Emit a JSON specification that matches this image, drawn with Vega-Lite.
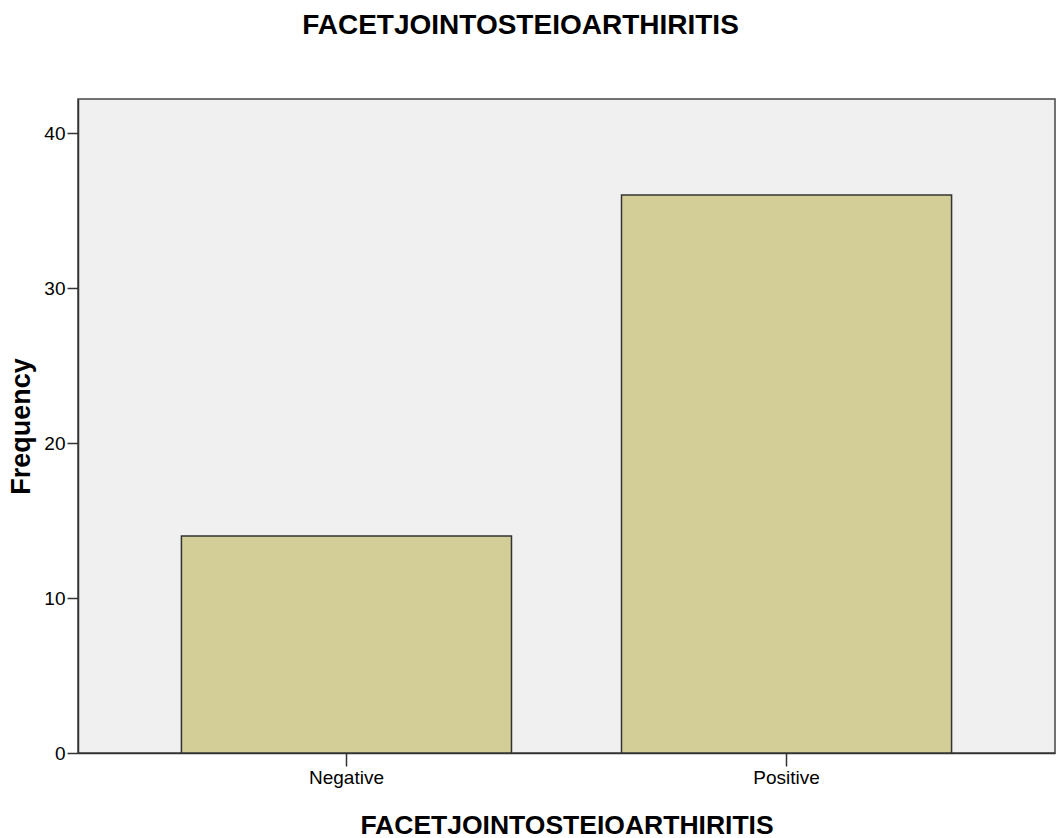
{
  "$schema": "https://vega.github.io/schema/vega-lite/v6.json",
  "autosize": {"type": "none"},
  "width": 977,
  "height": 654,
  "padding": {"left": 78, "top": 99, "right": 2, "bottom": 85},
  "background": "#ffffff",
  "title": {
    "text": "FACETJOINTOSTEIOARTHIRITIS",
    "font": "Liberation Sans",
    "fontSize": 28,
    "fontWeight": "bold",
    "color": "#000000",
    "anchor": "middle",
    "dx": -46,
    "baseline": "alphabetic",
    "offset": 37
  },
  "data": {
    "values": [
      {"category": "Negative", "frequency": 14},
      {"category": "Positive", "frequency": 36}
    ]
  },
  "mark": {"type": "bar", "fill": "#d3cd97", "stroke": "#333333", "strokeWidth": 1.5},
  "encoding": {
    "x": {
      "field": "category",
      "type": "nominal",
      "sort": ["Negative", "Positive"],
      "scale": {"paddingInner": 0.25, "paddingOuter": 0.235},
      "axis": {
        "title": "FACETJOINTOSTEIOARTHIRITIS",
        "titleFont": "Liberation Sans",
        "titleFontSize": 26.5,
        "titleFontWeight": "bold",
        "titleColor": "#000000",
        "titlePadding": 25,
        "labelAngle": 0,
        "labelFont": "Liberation Sans",
        "labelFontSize": 19,
        "labelColor": "#000000",
        "labelPadding": 2,
        "tickSize": 13,
        "tickColor": "#333333",
        "tickWidth": 1.5,
        "domainColor": "#333333",
        "domainWidth": 1.5
      }
    },
    "y": {
      "field": "frequency",
      "type": "quantitative",
      "scale": {"domain": [0, 42.2], "nice": false},
      "axis": {
        "title": "Frequency",
        "titleFont": "Liberation Sans",
        "titleFontSize": 27,
        "titleFontWeight": "bold",
        "titleColor": "#000000",
        "titlePadding": 8,
        "values": [0, 10, 20, 30, 40],
        "grid": false,
        "labelFont": "Liberation Sans",
        "labelFontSize": 19,
        "labelColor": "#000000",
        "labelPadding": 2,
        "tickSize": 11,
        "tickColor": "#333333",
        "tickWidth": 1.5,
        "domainColor": "#333333",
        "domainWidth": 1.5
      }
    }
  },
  "config": {
    "view": {"fill": "#f0f0f0", "stroke": "#444444", "strokeWidth": 1.5}
  }
}
